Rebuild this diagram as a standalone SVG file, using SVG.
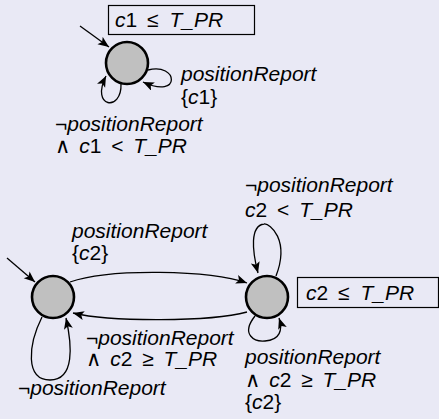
<svg xmlns="http://www.w3.org/2000/svg" width="439" height="419" viewBox="0 0 439 419">
<style>
.bg{fill:#e9e9f5}
.st{fill:#c0c0c0;stroke:#000;stroke-width:2.6}
.e{fill:none;stroke:#000;stroke-width:1.3}
.inv{fill:none;stroke:#000;stroke-width:1.2}
text{font-family:"Liberation Sans","DejaVu Sans",sans-serif;font-size:21px;fill:#000}
.i{font-style:italic}
</style>
<defs>
<marker id="ah" markerUnits="userSpaceOnUse" markerWidth="12" markerHeight="10" refX="11" refY="4.5" orient="auto">
<path d="M0,0 L11,4.5 L0,9 L2.5,4.5 z" fill="#000"/>
</marker>
</defs>
<rect class="bg" x="0" y="0" width="439" height="419"/>

<g id="inv1">
<rect class="inv" x="108.5" y="5.5" width="146" height="29"/>
<text x="115" y="27"><tspan class="i">c</tspan>1 <tspan dx="4">≤</tspan> <tspan class="i" dx="5">T_PR</tspan></text>
</g>
<g id="inv2">
<rect class="inv" x="297.5" y="277.5" width="141" height="30"/>
<text x="306" y="300"><tspan class="i">c</tspan>2 <tspan dx="4">≤</tspan> <tspan class="i" dx="5">T_PR</tspan></text>
</g>

<g id="connectors">
<path class="e" d="M80,26 L109,47" marker-end="url(#ah)"/>
<path class="e" d="M148,70 C178,62 182,100 143,82" marker-end="url(#ah)"/>
<path class="e" d="M121,84 C122,112 90,108 106,76" marker-end="url(#ah)"/>
<path class="e" d="M7,258 L35,282" marker-end="url(#ah)"/>
<path class="e" d="M70,282 C110,268 210,270 247,283" marker-end="url(#ah)"/>
<path class="e" d="M247,312 C210,322 110,322 73,313" marker-end="url(#ah)"/>
<path class="e" d="M42,317 C28,345 25,380 50,380 C75,380 72,345 66,318" marker-end="url(#ah)"/>
<path class="e" d="M276,276 C290,240 270,223 264,224 C250,226 252,250 258,273" marker-end="url(#ah)"/>
<path class="e" d="M255,316 C240,335 255,342 265,341 C280,340 283,330 279,318" marker-end="url(#ah)"/>
</g>

<g id="s0"><circle class="st" cx="127" cy="63" r="21"/></g>
<g id="s1"><circle class="st" cx="53" cy="297" r="21"/></g>
<g id="s2"><circle class="st" cx="267" cy="297" r="21"/></g>

<g id="labels">
<text x="181" y="81" class="i">positionReport</text>
<text x="181" y="104">{<tspan class="i">c</tspan>1}</text>
<text x="55" y="131">¬<tspan class="i">positionReport</tspan></text>
<text x="55" y="153">∧ <tspan class="i" dx="3">c</tspan>1 <tspan dx="4">&lt;</tspan> <tspan class="i" dx="4">T_PR</tspan></text>

<text x="72" y="238" class="i">positionReport</text>
<text x="72" y="260">{<tspan class="i">c</tspan>2}</text>
<text x="86" y="345">¬<tspan class="i">positionReport</tspan></text>
<text x="86" y="366">∧ <tspan class="i" dx="3">c</tspan>2 <tspan dx="4">≥</tspan> <tspan class="i" dx="4">T_PR</tspan></text>
<text x="18" y="395">¬<tspan class="i">positionReport</tspan></text>

<text x="245" y="192">¬<tspan class="i">positionReport</tspan></text>
<text x="245" y="217"><tspan class="i">c</tspan>2 <tspan dx="4">&lt;</tspan> <tspan class="i" dx="4">T_PR</tspan></text>
<text x="245" y="364" class="i">positionReport</text>
<text x="245" y="387">∧ <tspan class="i" dx="3">c</tspan>2 <tspan dx="4">≥</tspan> <tspan class="i" dx="4">T_PR</tspan></text>
<text x="245" y="409">{<tspan class="i">c</tspan>2}</text>
</g>
</svg>
